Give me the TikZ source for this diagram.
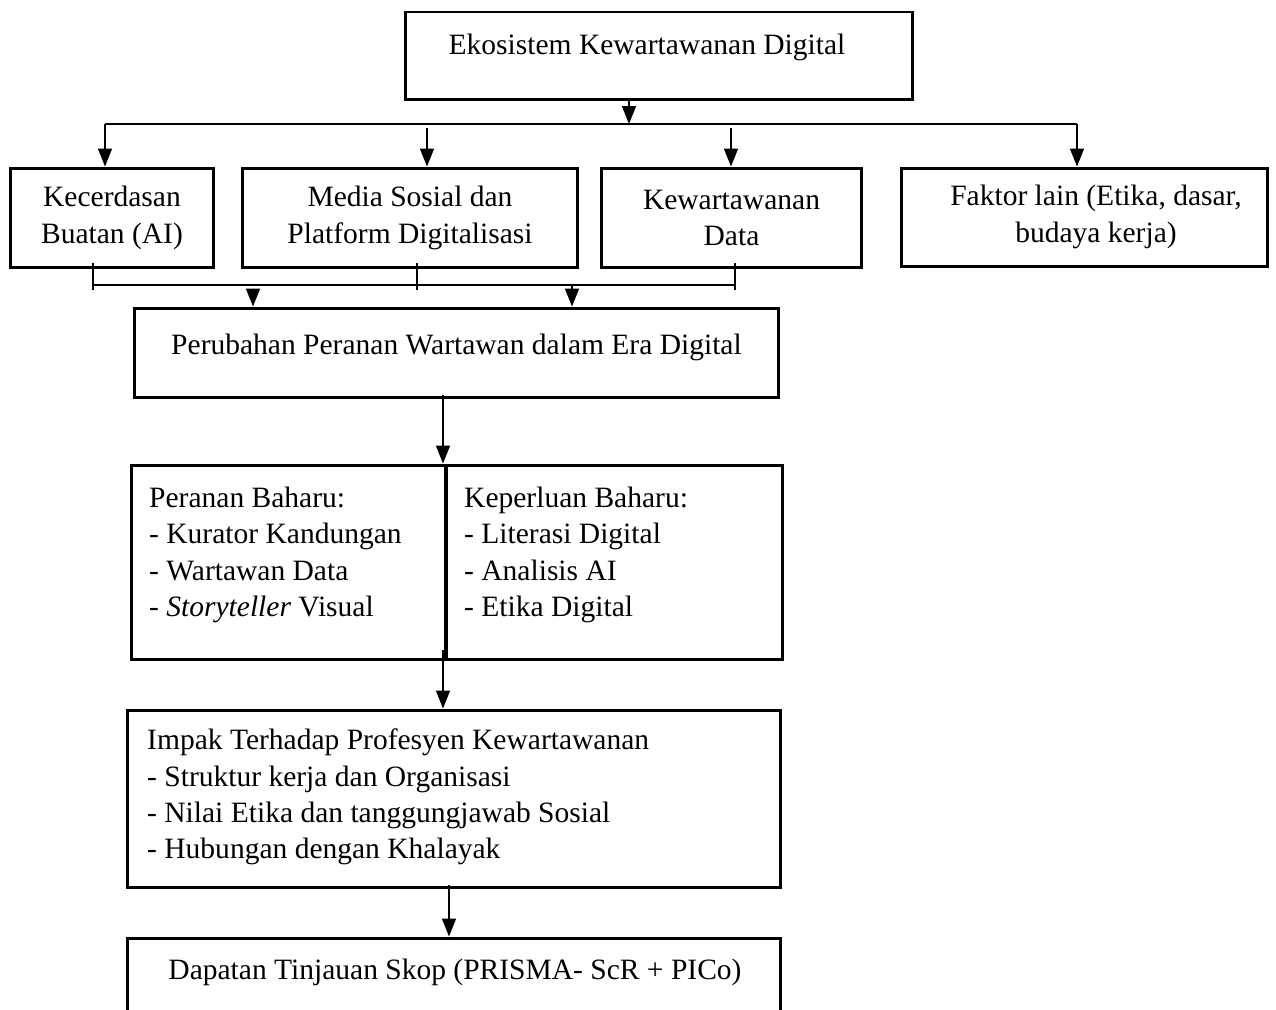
\documentclass[tikz,border=0pt]{standalone}
\usepackage{fontspec}
\setmainfont{Liberation Serif}
\usetikzlibrary{arrows.meta}

\tikzset{
  box/.style={draw, line width=1.7pt, inner sep=0pt},
  line/.style={line width=0.9pt},
  arr/.style={line, -{Triangle[length=0.36cm, width=0.28cm]}},
}

\begin{document}
\begin{tikzpicture}[x=0.02cm, y=-0.02cm, font=\fontsize{16.8pt}{20.6pt}\selectfont]
    \useasboundingbox (0,0) rectangle (1276,1010);
    \node[box, minimum width=10.16cm, minimum height=1.76cm] (eko) at (659,56) {};
    \node (ekot) at (647,47) {Ekosistem Kewartawanan Digital};
    \node[box, minimum width=4.08cm, minimum height=2cm, align=center] (ai) at (112,218) {Kecerdasan\\Buatan (AI)};
    \node[box, minimum width=6.72cm, minimum height=2cm, align=center] (media) at (410,218) {Media Sosial dan\\Platform Digitalisasi};
    \node[box, minimum width=5.22cm, minimum height=2cm, align=center] (kdata) at (731.5,218) {Kewartawanan\\Data};
    \node[box, minimum width=7.34cm, minimum height=1.98cm] (faktor) at (1084.5,217.5) {};
    \node[align=center] (faktort) at (1096,217) {Faktor lain (Etika, dasar,\\budaya kerja)};
    \node[box, minimum width=12.9cm, minimum height=1.8cm] (ubah) at (456.5,353) {};
    \node (ubaht) at (456.5,347) {Perubahan Peranan Wartawan dalam Era Digital};
    \node[box, minimum width=6.3cm, minimum height=3.9cm] (peranan) at (288.5,562.5) {};
    \node[box, minimum width=6.74cm, minimum height=3.9cm] (keperluan) at (614.5,562.5) {};
    \node[anchor=west, align=left] (perananT) at (143,555) {Peranan Baharu:\\- Kurator Kandungan\\- Wartawan Data\\- \textit{Storyteller} Visual};
    \node[anchor=west, align=left] (keperluanT) at (458,555) {Keperluan Baharu:\\- Literasi Digital\\- Analisis AI\\- Etika Digital};
    \node[box, minimum width=13.08cm, minimum height=3.56cm] (impak) at (454,799) {};
    \node[anchor=west, align=left] (impakt) at (141,797) {Impak Terhadap Profesyen Kewartawanan\\- Struktur kerja dan Organisasi\\- Nilai Etika dan tanggungjawab Sosial\\- Hubungan dengan Khalayak};
    \node[box, minimum width=13.08cm, minimum height=1.84cm] (dapatan) at (454,984) {};
    \node (dapatant) at (455,972) {Dapatan Tinjauan Skop (PRISMA- ScR + PICo)};
    \coordinate (hl) at (105,124);
    \coordinate (hr) at (1077,124);
    \coordinate (sp) at (629,124);
    \coordinate (m1) at (427,128);
    \coordinate (m2) at (731,128);
    \draw [line] (hl) to (hr);
    \draw [arr] (eko.south -| sp) to (sp);
    \draw [arr] (hl) to (hl |- ai.north);
    \draw [arr] (m1) to (m1 |- media.north);
    \draw [arr] (m2) to (m2 |- kdata.north);
    \draw [arr] (hr) to (hr |- faktor.north);
    \coordinate (b1) at (93,285);
    \coordinate (b2) at (417,285);
    \coordinate (b3) at (735,285);
    \coordinate (d1) at (253,290);
    \coordinate (d2) at (572,285);
    \draw [line] (b1) to (b3);
    \draw [line] ([yshift=0.12cm]ai.south -| b1) to ([yshift=-0.1cm]b1);
    \draw [line] ([yshift=0.12cm]media.south -| b2) to ([yshift=-0.1cm]b2);
    \draw [line] ([yshift=0.12cm]kdata.south -| b3) to ([yshift=-0.1cm]b3);
    \draw [arr] (d1) to (d1 |- ubah.north);
    \draw [arr] (d2) to (d2 |- ubah.north);
    \coordinate (c1) at (443,395);
    \coordinate (c2) at (443,650);
    \coordinate (c3) at (449,885);
    \draw [arr] (c1) to (c1 |- peranan.north);
    \draw [arr] (c2) to (c2 |- impak.north);
    \draw [arr] (c3) to (c3 |- dapatan.north);
\end{tikzpicture}
\end{document}
